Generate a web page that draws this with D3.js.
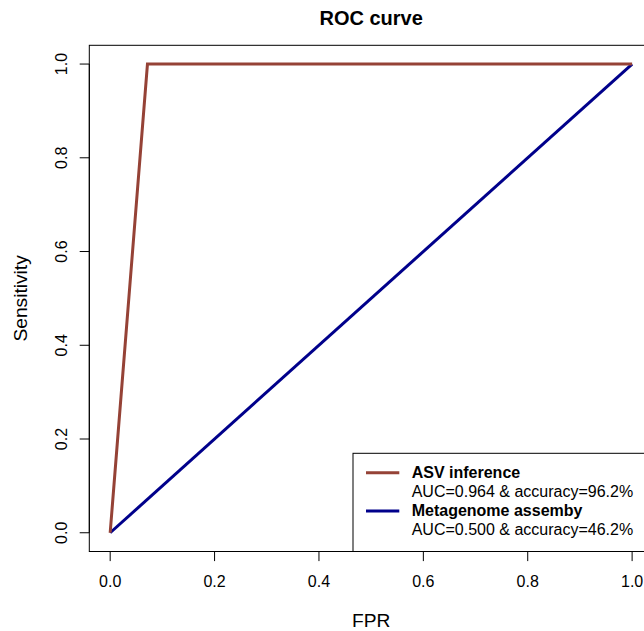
<!DOCTYPE html>
<html>
<head>
<meta charset="utf-8">
<script src="https://cdn.jsdelivr.net/npm/d3@7"></script>
<style>
  body { margin: 0; background: #fff; }
  svg { display: block; font-family: "Liberation Sans", Arial, sans-serif; }
</style>
</head>
<body>
<svg id="chart" width="644" height="631"></svg>
<script>
var asvFpr = [0, 1 / 14, 1];
var asvTpr = [0, 1, 1];
var metaFpr = [0, 1];
var metaTpr = [0, 1];
var ticks = [0, 0.2, 0.4, 0.6, 0.8, 1.0];
var seriesNames = ['ASV inference', 'Metagenome assemby'];
var seriesNotes = ['AUC=0.964 & accuracy=96.2%', 'AUC=0.500 & accuracy=46.2%'];
var seriesColors = ['#954236', '#00008B'];

var svg = d3.select('#chart');

// plot region (R style: 4% padding on each side of the data range)
var x = d3.scaleLinear().domain([-0.04, 1.04]).range([89.3, 653]);
var y = d3.scaleLinear().domain([-0.04, 1.04]).range([551.5, 45.3]);

var line = d3.line()
    .x(function (d) { return x(d[0]); })
    .y(function (d) { return y(d[1]); });

// box
svg.append('rect')
    .attr('x', x(-0.04)).attr('y', y(1.04))
    .attr('width', x(1.04) - x(-0.04))
    .attr('height', y(-0.04) - y(1.04))
    .attr('fill', 'none').attr('stroke', '#000').attr('stroke-width', 1);

// x axis
var gx = svg.append('g').attr('transform', 'translate(0,' + y(-0.04) + ')');
gx.append('line')
    .attr('x1', x(0)).attr('x2', x(1))
    .attr('stroke', '#000');
gx.selectAll('.tick').data(ticks).enter().append('line')
    .attr('x1', function (d) { return x(d); })
    .attr('x2', function (d) { return x(d); })
    .attr('y1', 0).attr('y2', 9.6)
    .attr('stroke', '#000');
gx.selectAll('text').data(ticks).enter().append('text')
    .attr('x', function (d) { return x(d); })
    .attr('y', 35.5)
    .attr('text-anchor', 'middle')
    .attr('font-size', 16)
    .text(function (d) { return d.toFixed(1); });

// y axis
var gy = svg.append('g').attr('transform', 'translate(' + x(-0.04) + ',0)');
gy.append('line')
    .attr('y1', y(0)).attr('y2', y(1))
    .attr('stroke', '#000');
gy.selectAll('.tick').data(ticks).enter().append('line')
    .attr('y1', function (d) { return y(d); })
    .attr('y2', function (d) { return y(d); })
    .attr('x1', 0).attr('x2', -9.6)
    .attr('stroke', '#000');
gy.selectAll('text').data(ticks).enter().append('text')
    .attr('transform', function (d) { return 'translate(-22,' + y(d) + ') rotate(-90)'; })
    .attr('text-anchor', 'middle')
    .attr('font-size', 16)
    .text(function (d) { return d.toFixed(1); });

// curves
var curves = [
    d3.zip(metaFpr, metaTpr),
    d3.zip(asvFpr, asvTpr)
];
var curveColors = [seriesColors[1], seriesColors[0]];
curves.forEach(function (pts, i) {
    svg.append('path')
        .datum(pts)
        .attr('d', line)
        .attr('fill', 'none')
        .attr('stroke', curveColors[i])
        .attr('stroke-width', 3)
        .attr('stroke-linejoin', 'miter');
});

// titles
svg.append('text')
    .attr('x', (x(-0.04) + x(1.04)) / 2).attr('y', 25)
    .attr('text-anchor', 'middle')
    .attr('font-size', 20).attr('font-weight', 'bold')
    .text('ROC curve');
svg.append('text')
    .attr('x', (x(-0.04) + x(1.04)) / 2).attr('y', 627)
    .attr('text-anchor', 'middle')
    .attr('font-size', 19.2)
    .text('FPR');
svg.append('text')
    .attr('transform', 'translate(27,' + (y(-0.04) + y(1.04)) / 2 + ') rotate(-90)')
    .attr('text-anchor', 'middle')
    .attr('font-size', 19.2)
    .text('Sensitivity');

// legend
var lg = svg.append('g');
lg.append('rect')
    .attr('x', 353).attr('y', 453.3)
    .attr('width', 320).attr('height', y(-0.04) - 453.3)
    .attr('fill', '#fff').attr('stroke', '#000');
seriesNames.forEach(function (name, i) {
    var y0 = 472.7 + i * 38.4;
    lg.append('line')
        .attr('x1', 366).attr('x2', 399.3)
        .attr('y1', y0).attr('y2', y0)
        .attr('stroke', seriesColors[i]).attr('stroke-width', 3);
    lg.append('text')
        .attr('x', 411.7).attr('y', y0 + 5.3)
        .attr('font-size', 16).attr('font-weight', 'bold')
        .text(name);
    lg.append('text')
        .attr('x', 411.7).attr('y', y0 + 24.3)
        .attr('font-size', 16)
        .text(seriesNotes[i]);
});
</script>
</body>
</html>
